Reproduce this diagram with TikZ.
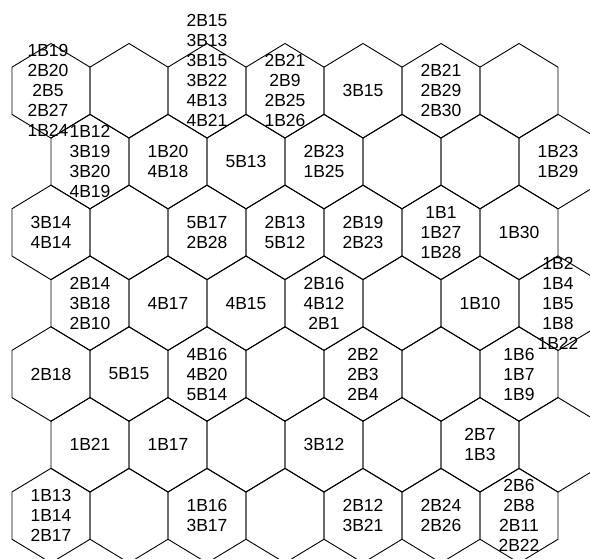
\documentclass[tikz,border=0pt]{standalone}
\usepackage{fontspec}
\setmainfont{Liberation Sans}
\tikzset{
    cell/.style={draw=black, line width=0.9pt, line join=miter},
    lbl/.style={align=center, inner sep=0pt, font=\fontsize{17.5}{20}\selectfont}
}
\begin{document}
\begin{tikzpicture}[x=1pt, y=-1pt]
    % Frame
    \useasboundingbox (0,0) rectangle (590,559);
    \clip (0,0) rectangle (590,559);

    % Hexagon grid, every second row shifted by half a cell
    \foreach \r in {0,...,6} {
        \foreach \c in {0,...,6} {
            \pgfmathsetmacro{\cx}{51+78*\c+39*mod(\r,2)}
            \pgfmathsetmacro{\cy}{90.8+70.8*\r}
            \draw[cell] (\cx,\cy-47.3) -- ++(39,23.65) -- ++(0,47.3) -- ++(-39,23.65)
                -- ++(-39,-23.65) -- ++(0,-47.3) -- cycle;
        }
    }

    % Row 1
    \node[lbl, xshift=-3pt] (a1) at (51,90.8) {1B19\\2B20\\2B5\\2B27\\1B24};
    \node[lbl, yshift=20pt] (a3) at (207,90.8) {2B15\\3B13\\3B15\\3B22\\4B13\\4B21};
    \node[lbl] (a4) at (285,90.8) {2B21\\2B9\\2B25\\1B26};
    \node[lbl] (a5) at (363,90.8) {3B15};
    \node[lbl] (a6) at (441,90.8) {2B21\\2B29\\2B30};

    % Row 2
    \node[lbl] (b1) at (90,161.6) {1B12\\3B19\\3B20\\4B19};
    \node[lbl] (b2) at (168,161.6) {1B20\\4B18};
    \node[lbl] (b3) at (246,161.6) {5B13};
    \node[lbl] (b4) at (324,161.6) {2B23\\1B25};
    \node[lbl] (b7) at (558,161.6) {1B23\\1B29};

    % Row 3
    \node[lbl] (c1) at (51,232.4) {3B14\\4B14};
    \node[lbl] (c3) at (207,232.4) {5B17\\2B28};
    \node[lbl] (c4) at (285,232.4) {2B13\\5B12};
    \node[lbl] (c5) at (363,232.4) {2B19\\2B23};
    \node[lbl] (c6) at (441,232.4) {1B1\\1B27\\1B28};
    \node[lbl] (c7) at (519,232.4) {1B30};

    % Row 4
    \node[lbl] (d1) at (90,303.2) {2B14\\3B18\\2B10};
    \node[lbl] (d2) at (168,303.2) {4B17};
    \node[lbl] (d3) at (246,303.2) {4B15};
    \node[lbl] (d4) at (324,303.2) {2B16\\4B12\\2B1};
    \node[lbl] (d6) at (480,303.2) {1B10};
    \node[lbl] (d7) at (558,303.2) {1B2\\1B4\\1B5\\1B8\\1B22};

    % Row 5
    \node[lbl] (e1) at (51,374) {2B18};
    \node[lbl] (e2) at (129,374) {5B15};
    \node[lbl] (e3) at (207,374) {4B16\\4B20\\5B14};
    \node[lbl] (e5) at (363,374) {2B2\\2B3\\2B4};
    \node[lbl] (e7) at (519,374) {1B6\\1B7\\1B9};

    % Row 6
    \node[lbl] (f1) at (90,444.8) {1B21};
    \node[lbl] (f2) at (168,444.8) {1B17};
    \node[lbl] (f4) at (324,444.8) {3B12};
    \node[lbl] (f6) at (480,444.8) {2B7\\1B3};

    % Row 7
    \node[lbl] (g1) at (51,515.6) {1B13\\1B14\\2B17};
    \node[lbl] (g3) at (207,515.6) {1B16\\3B17};
    \node[lbl] (g5) at (363,515.6) {2B12\\3B21};
    \node[lbl] (g6) at (441,515.6) {2B24\\2B26};
    \node[lbl] (g7) at (519,515.6) {2B6\\2B8\\2B11\\2B22};
\end{tikzpicture}
\end{document}
